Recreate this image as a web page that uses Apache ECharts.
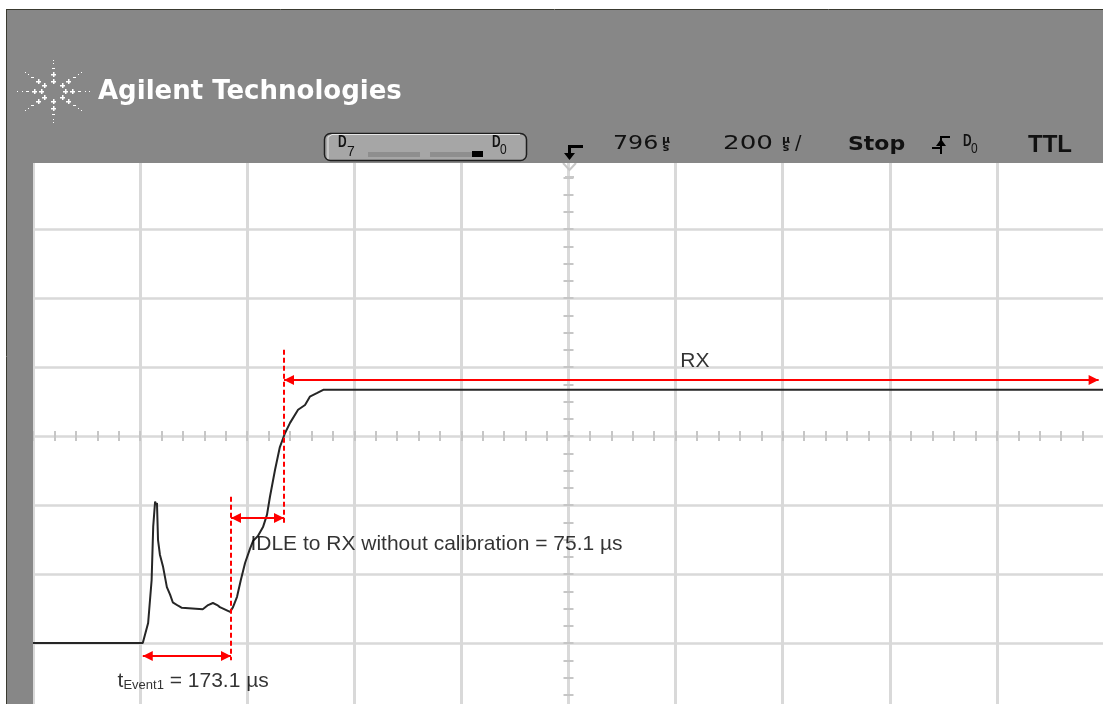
<!DOCTYPE html>
<html><head><meta charset="utf-8">
<script src="https://cdn.jsdelivr.net/npm/echarts@6/dist/echarts.min.js"></script>
<style>html,body{margin:0;padding:0;background:#fff;overflow:hidden}#c{width:1103px;height:704px}</style>
</head><body><div id="c"></div>
<script>
// Time axis in µs (200 µs/div, 10 divisions); level axis in divisions (screen centre = 0)
const timeRange = [-200, 1800];
const timePerDiv = 200;
const levelRange = [-4, 4];

// Captured trace (time µs, level div)
const traceTime  = [-200, 5, 15, 21.5, 24.5, 28, 30, 31.5, 33.5, 37, 43, 50, 56, 61, 71, 78, 117, 127, 136, 144, 149, 168, 173.5, 181, 188, 196, 205, 211, 220, 229.5, 237, 242.5, 252, 261, 270.5, 280, 295, 308, 317, 330, 342, 1800];
const traceLevel = [-3.0, -3.0, -2.71, -2.09, -1.31, -0.95, -1.0, -0.97, -1.51, -1.72, -1.9, -2.19, -2.3, -2.41, -2.46, -2.49, -2.51, -2.45, -2.42, -2.45, -2.48, -2.55, -2.48, -2.33, -2.09, -1.84, -1.64, -1.52, -1.45, -1.32, -1.14, -0.88, -0.49, -0.16, 0.04, 0.19, 0.38, 0.45, 0.57, 0.62, 0.67, 0.67];

// Measurement cursors (red dashed)
const cursorTime   = [169.7, 268.7];
const cursorTop    = [-0.88, 1.25];
const cursorBottom = [-3.25, -1.26];

// Measurement spans (red double arrows)
const spanStart = [5, 169.7, 268.7];
const spanEnd   = [169.7, 268.7, 1790];
const spanLevel = [-3.19, -1.19, 0.81];

// Annotation texts
const labelText  = ['{m|t}{s|Event1}{m| = 173.1 µs}', 'IDLE to RX without calibration = 75.1 µs', 'RX'];
const labelTime  = [-43, 205, 1036];
const labelLevel = [-3.53, -1.57, 1.08];

// Header texts
const brandName = 'Agilent Technologies';
const delayValue = '796';
const timebaseValue = '200';
const runState = 'Stop';
const triggerSource = 'D';
const triggerSourceIdx = '0';
const logicFamily = 'TTL';
const busHigh = ['D', '7'];
const busLow = ['D', '0'];

const gridLineColor = '#d9d9d9';
const tickColor = '#c6c6c6';

function logoElements(cx, cy) {
  const els = [];
  const angles = [0, 38, 90, 142, 180, 218, 270, 322];
  const steps = [[11, 'plus'], [18, 'plus'], [25, 'dash'], [30, 'dot'], [34, 'dot']];
  angles.forEach(a => {
    const rad = a * Math.PI / 180;
    steps.forEach(([r, k]) => {
      const x = Math.round(cx + r * Math.cos(rad) * 1.05);
      const y = Math.round(cy - r * Math.sin(rad) * 0.92);
      if (k === 'plus') {
        els.push({type: 'rect', z: 101, shape: {x: x - 2, y: y, width: 5, height: 1.5}, style: {fill: '#fff'}});
        els.push({type: 'rect', z: 101, shape: {x: x, y: y - 2, width: 1.5, height: 5}, style: {fill: '#fff'}});
      } else if (k === 'dash') {
        els.push({type: 'rect', z: 101, shape: {x: x - 1, y: y, width: 3, height: 1}, style: {fill: '#fff'}});
      } else {
        els.push({type: 'rect', z: 101, shape: {x: x, y: y, width: 1, height: 1}, style: {fill: '#fff'}});
      }
    });
  });
  return els;
}

const headerGray = '#878787';
const graphics = [
  {type: 'rect', z: 100, shape: {x: 7, y: 10, width: 1096, height: 153}, style: {fill: headerGray}},
  {type: 'rect', z: 100, shape: {x: 7, y: 10, width: 26, height: 694}, style: {fill: headerGray}},
  {type: 'line', z: 101, shape: {x1: 6, y1: 9.5, x2: 1103, y2: 9.5}, style: {stroke: '#3a3a30', lineWidth: 1}},
  {type: 'line', z: 101, shape: {x1: 6.5, y1: 9, x2: 6.5, y2: 704}, style: {stroke: '#3a3a30', lineWidth: 1}},
  ...logoElements(53, 91),
  {type: 'text', z: 101, x: 98, y: 92, style: {text: brandName, font: 'bold 26px "DejaVu Sans"', fill: '#ffffff', align: 'left', verticalAlign: 'middle'}},
  // bus box
  {type: 'rect', z: 101, shape: {x: 324.5, y: 133.5, width: 202, height: 27, r: 6}, style: {fill: '#a6a6a6', stroke: '#1e1e1e', lineWidth: 1.5}},
  {type: 'polyline', z: 102, shape: {points: [[328, 159], [328, 137], [332, 134.5], [520, 134.5]]}, style: {stroke: '#e6e6e6', lineWidth: 1, fill: null}},
  {type: 'text', z: 102, x: 338, y: 142, scaleX: 0.7, style: {text: busHigh[0], font: 'bold 17px "Liberation Sans"', fill: '#111', align: 'left', verticalAlign: 'middle'}},
  {type: 'text', z: 102, x: 347, y: 152, style: {text: busHigh[1], font: '14px "Liberation Sans"', fill: '#111', align: 'left', verticalAlign: 'middle'}},
  {type: 'rect', z: 102, shape: {x: 368, y: 152, width: 52, height: 5}, style: {fill: '#8e8e8e'}},
  {type: 'rect', z: 102, shape: {x: 430, y: 152, width: 42, height: 5}, style: {fill: '#8e8e8e'}},
  {type: 'rect', z: 102, shape: {x: 472, y: 151, width: 11, height: 6}, style: {fill: '#000'}},
  {type: 'text', z: 102, x: 492, y: 142, scaleX: 0.7, style: {text: busLow[0], font: 'bold 17px "Liberation Sans"', fill: '#111', align: 'left', verticalAlign: 'middle'}},
  {type: 'text', z: 102, x: 500, y: 150, scaleX: 0.8, style: {text: busLow[1], font: '15px "Liberation Sans"', fill: '#111', align: 'left', verticalAlign: 'middle'}},
  // trigger position marker
  {type: 'polyline', z: 101, shape: {points: [[583, 146.5], [569.5, 146.5], [569.5, 154]]}, style: {stroke: '#000', lineWidth: 3, fill: null}},
  {type: 'polygon', z: 101, shape: {points: [[564, 153], [575, 153], [569.5, 160]]}, style: {fill: '#000'}},
  {type: 'polyline', z: 99, shape: {points: [[563, 163], [569.5, 170], [576, 163]]}, style: {stroke: '#c8c8c8', lineWidth: 2, fill: null}},
  {type: 'line', z: 99, shape: {x1: 565, y1: 177, x2: 574, y2: 177}, style: {stroke: '#c8c8c8', lineWidth: 2}},
  // status line
  {type: 'text', z: 101, x: 613, y: 144, scaleX: 1.25, style: {text: delayValue, font: '19px "DejaVu Sans"', fill: '#111', align: 'left', verticalAlign: 'middle'}},
  {type: 'text', z: 101, x: 666, y: 140.5, style: {text: 'µ', font: 'bold 11px "DejaVu Sans"', fill: '#111', align: 'center', verticalAlign: 'middle'}},
  {type: 'text', z: 101, x: 666, y: 148.5, style: {text: 's', font: 'bold 11px "DejaVu Sans"', fill: '#111', align: 'center', verticalAlign: 'middle'}},
  {type: 'text', z: 101, x: 723, y: 144, scaleX: 1.38, style: {text: timebaseValue, font: '19px "DejaVu Sans"', fill: '#111', align: 'left', verticalAlign: 'middle'}},
  {type: 'text', z: 101, x: 786, y: 140.5, style: {text: 'µ', font: 'bold 11px "DejaVu Sans"', fill: '#111', align: 'center', verticalAlign: 'middle'}},
  {type: 'text', z: 101, x: 786, y: 148.5, style: {text: 's', font: 'bold 11px "DejaVu Sans"', fill: '#111', align: 'center', verticalAlign: 'middle'}},
  {type: 'text', z: 101, x: 795, y: 144, style: {text: '/', font: '19px "DejaVu Sans"', fill: '#111', align: 'left', verticalAlign: 'middle'}},
  {type: 'text', z: 101, x: 848, y: 145, scaleX: 1.1, style: {text: runState, font: 'bold 20px "DejaVu Sans"', fill: '#111', align: 'left', verticalAlign: 'middle'}},
  {type: 'polyline', z: 101, shape: {points: [[932, 148], [941, 148]]}, style: {stroke: '#000', lineWidth: 2, fill: null}},
  {type: 'polyline', z: 101, shape: {points: [[941, 154], [941, 137], [950, 137]]}, style: {stroke: '#000', lineWidth: 2, fill: null}},
  {type: 'polygon', z: 101, shape: {points: [[936, 146], [946, 146], [941, 139]]}, style: {fill: '#000'}},
  {type: 'text', z: 101, x: 963, y: 141, scaleX: 0.7, style: {text: triggerSource, font: 'bold 17px "Liberation Sans"', fill: '#111', align: 'left', verticalAlign: 'middle'}},
  {type: 'text', z: 101, x: 971, y: 149, scaleX: 0.8, style: {text: triggerSourceIdx, font: '15px "Liberation Sans"', fill: '#111', align: 'left', verticalAlign: 'middle'}},
  {type: 'text', z: 101, x: 1028, y: 145, style: {text: logicFamily, font: 'bold 24px "Liberation Sans"', fill: '#111', align: 'left', verticalAlign: 'middle'}}
];

const hiddenAxisBits = {axisLabel: {show: false}, splitLine: {show: false}, axisLine: {show: false}};

const chart = echarts.init(document.getElementById('c'), null, {renderer: 'canvas'});
chart.setOption({
  animation: false,
  backgroundColor: '#ffffff',
  grid: {left: 33, right: -1, top: 160, bottom: -8, containLabel: false, outerBoundsMode: 'none', show: false},
  xAxis: [
    {type: 'value', min: timeRange[0], max: timeRange[1], interval: timePerDiv,
     axisLine: {show: false, onZero: false}, axisTick: {show: false}, axisLabel: {show: false},
     splitLine: {show: true, lineStyle: {color: gridLineColor, width: 3}}},
    {type: 'value', min: timeRange[0], max: timeRange[1], interval: timePerDiv / 5, ...hiddenAxisBits,
     axisLine: {show: false, onZero: true, onZeroAxisIndex: 0},
     axisTick: {show: true, inside: true, length: 5, lineStyle: {color: tickColor, width: 2}}},
    {type: 'value', min: timeRange[0], max: timeRange[1], interval: timePerDiv / 5, ...hiddenAxisBits,
     axisLine: {show: false, onZero: true, onZeroAxisIndex: 0},
     axisTick: {show: true, inside: false, length: 5, lineStyle: {color: tickColor, width: 2}}}
  ],
  yAxis: [
    {type: 'value', min: levelRange[0], max: levelRange[1], interval: 1,
     axisLine: {show: false, onZero: false}, axisTick: {show: false}, axisLabel: {show: false},
     splitLine: {show: true, lineStyle: {color: gridLineColor, width: 2.5}}},
    {type: 'value', min: levelRange[0], max: levelRange[1], interval: 0.25, position: 'left', offset: -535.5, ...hiddenAxisBits,
     axisLine: {show: false, onZero: false},
     axisTick: {show: true, inside: true, length: 5, lineStyle: {color: tickColor, width: 2}}},
    {type: 'value', min: levelRange[0], max: levelRange[1], interval: 0.25, position: 'left', offset: -535.5, ...hiddenAxisBits,
     axisLine: {show: false, onZero: false},
     axisTick: {show: true, inside: false, length: 5, lineStyle: {color: tickColor, width: 2}}}
  ],
  series: [
    {
      name: 'trace', type: 'line', showSymbol: false, symbol: 'none', silent: true, z: 3,
      lineStyle: {color: '#262626', width: 2},
      data: traceTime.map((t, i) => [t, traceLevel[i]]),
      markLine: {
        silent: true, animation: false,
        symbol: ['triangle', 'triangle'], symbolSize: [10, 10], symbolOffset: [[0, 5], [0, 5]],
        label: {show: false}, emphasis: {disabled: true},
        lineStyle: {color: '#ff0000', width: 2, type: 'solid'},
        data: spanStart.map((s, i) => [{coord: [s, spanLevel[i]]}, {coord: [spanEnd[i], spanLevel[i]]}])
      }
    },
    {
      name: 'labels', type: 'scatter', silent: true, symbolSize: 1, z: 4,
      itemStyle: {color: 'rgba(0,0,0,0)'},
      data: labelText.map((txt, i) => ({
        value: [labelTime[i], labelLevel[i]],
        label: {
          show: true, formatter: txt,
          position: i === 2 ? 'inside' : 'right', distance: 0,
          align: i === 2 ? 'center' : 'left', verticalAlign: 'middle',
          color: '#000', fontFamily: '"Liberation Sans", Arial, sans-serif', fontSize: 21,
          rich: {
            m: {fontSize: 21, fontFamily: '"Liberation Sans", Arial, sans-serif', color: '#000', lineHeight: 24, verticalAlign: 'bottom'},
            s: {fontSize: 13, fontFamily: '"Liberation Sans", Arial, sans-serif', color: '#000', lineHeight: 13, verticalAlign: 'bottom'}
          }
        }
      })),
      markLine: {
        silent: true, animation: false, symbol: ['none', 'none'],
        label: {show: false}, emphasis: {disabled: true},
        lineStyle: {color: '#ff0000', width: 2, type: [5, 3]},
        data: cursorTime.map((t, i) => [{coord: [t, cursorTop[i]]}, {coord: [t, cursorBottom[i]]}])
      }
    }
  ],
  graphic: {elements: graphics}
});
</script>
</body></html>
